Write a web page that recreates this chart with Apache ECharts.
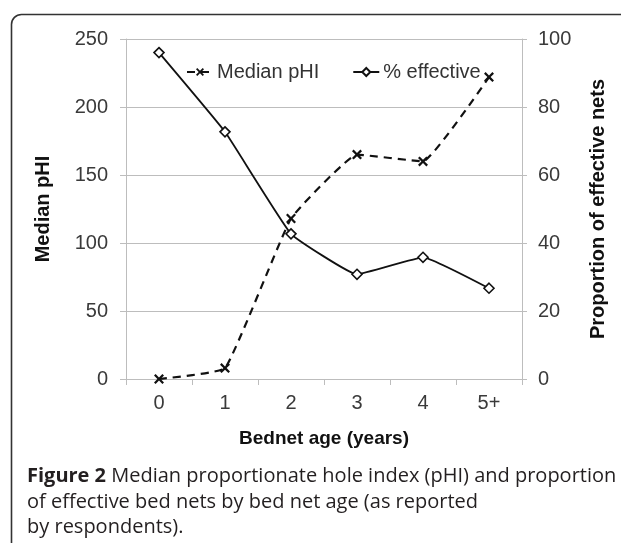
<!DOCTYPE html>
<html>
<head>
<meta charset="utf-8">
<script src="https://cdn.jsdelivr.net/npm/echarts@6/dist/echarts.min.js"></script>
<style>
html,body{margin:0;padding:0;background:#fff;}
#chart{width:621px;height:543px;}
</style>
</head>
<body>
<div id="chart"></div>
<script>
var categories = ['0', '1', '2', '3', '4', '5+'];
var medianPHI = [0, 8, 118, 165, 160, 222];
var pctEffective = [96, 72.7, 42.7, 30.8, 35.8, 26.7];
var leftTicks = [0, 50, 100, 150, 200, 250];
var rightTicks = [0, 20, 40, 60, 80, 100];

var crossPath = 'path://M0,1.6 L1.6,0 L5,3.4 L8.4,0 L10,1.6 L6.6,5 L10,8.4 L8.4,10 L5,6.6 L1.6,10 L0,8.4 L3.4,5 Z';

var chart = echarts.init(document.getElementById('chart'), null, {renderer: 'canvas'});
var labelColor = '#3a3a3a';
var axisGray = '#bdbdbd';
var option = {
  animation: false,
  backgroundColor: '#fff',
  grid: {left: 126, right: 99, top: 39, bottom: 164, containLabel: false},
  legend: {
    top: 57, left: 181,
    itemWidth: 26, itemHeight: 10, itemGap: 33,
    textStyle: {fontFamily: 'Liberation Sans', fontSize: 20, color: '#333', padding: [0, 0, 0, -1]},
    data: ['Median pHI', '% effective']
  },
  xAxis: {
    type: 'category',
    data: categories,
    boundaryGap: true,
    axisLine: {lineStyle: {color: axisGray, width: 1}},
    axisTick: {show: true, length: 6, lineStyle: {color: axisGray}},
    axisLabel: {fontFamily: 'Liberation Sans', fontSize: 20, color: labelColor, margin: 14},
    name: 'Bednet age (years)',
    nameLocation: 'middle',
    nameGap: 50,
    nameTextStyle: {fontFamily: 'Liberation Sans', fontSize: 19, fontWeight: 'bold', color: '#111'}
  },
  yAxis: [
    {
      type: 'value', min: leftTicks[0], max: leftTicks[leftTicks.length - 1], interval: 50,
      position: 'left',
      axisLine: {show: true, lineStyle: {color: axisGray}},
      axisTick: {show: true, length: 6, lineStyle: {color: axisGray}},
      splitLine: {show: true, lineStyle: {color: axisGray, width: 1}},
      axisLabel: {fontFamily: 'Liberation Sans', fontSize: 20, color: labelColor, margin: 18},
      name: 'Median pHI', nameLocation: 'middle', nameGap: 73, nameRotate: 90,
      nameTextStyle: {fontFamily: 'Liberation Sans', fontSize: 20, fontWeight: 'bold', color: '#111'}
    },
    {
      type: 'value', min: rightTicks[0], max: rightTicks[rightTicks.length - 1], interval: 20,
      position: 'right',
      axisLine: {show: true, lineStyle: {color: axisGray}},
      axisTick: {show: true, length: 5, lineStyle: {color: axisGray}},
      splitLine: {show: false},
      axisLabel: {fontFamily: 'Liberation Sans', fontSize: 20, color: labelColor, margin: 16},
      name: 'Proportion of effective nets', nameLocation: 'middle', nameGap: 66, nameRotate: 90,
      nameTextStyle: {fontFamily: 'Liberation Sans', fontSize: 20, fontWeight: 'bold', color: '#111'}
    }
  ],
  series: [
    {
      name: 'Median pHI', type: 'line', yAxisIndex: 0, data: medianPHI,
      smooth: 0.1,
      symbol: crossPath, symbolSize: 10,
      itemStyle: {color: '#111', borderWidth: 0},
      lineStyle: {color: '#111', width: 2.2, type: [8, 6]}
    },
    {
      name: '% effective', type: 'line', yAxisIndex: 1, data: pctEffective,
      smooth: 0.1,
      symbol: 'diamond', symbolSize: 10,
      itemStyle: {color: '#fff', borderColor: '#111', borderWidth: 1.6},
      lineStyle: {color: '#111', width: 1.8, type: 'solid'}
    }
  ],
  graphic: [
    {
      type: 'rect', z: -1, silent: true,
      shape: {x: 11.5, y: 14.5, width: 700, height: 600, r: [10, 0, 0, 0]},
      style: {fill: 'none', stroke: '#333', lineWidth: 1.6}
    },
    {
      type: 'text', left: 27, top: 466,
      style: {
        text: '{b|Figure 2} Median proportionate hole index (pHI) and proportion',
        font: '20px "Open Sans"', fill: '#231f20',
        rich: {b: {fontFamily: 'Open Sans', fontSize: 20, fontWeight: 'bold', fill: '#231f20'}}
      }
    },
    {
      type: 'text', left: 27, top: 492,
      style: {text: 'of effective bed nets by bed net age (as reported', font: '20px "Open Sans"', fill: '#231f20'}
    },
    {
      type: 'text', left: 27, top: 517,
      style: {text: 'by respondents).', font: '20px "Open Sans"', fill: '#231f20'}
    }
  ]
};
chart.setOption(option);
</script>
</body>
</html>
